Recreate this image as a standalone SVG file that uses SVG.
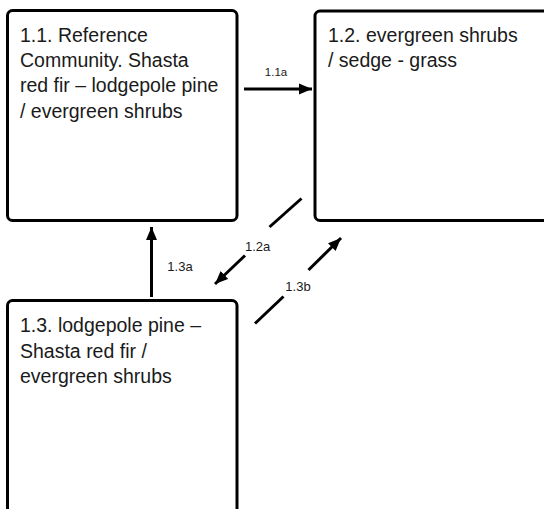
<svg xmlns="http://www.w3.org/2000/svg" width="544" height="509" viewBox="0 0 544 509">
<style>
.box{fill:#fff;stroke:#000;stroke-width:3}
.t{font-family:"Liberation Sans",Arial,sans-serif;font-size:19.5px;fill:#1a1a1a}
.lbl{font-family:"Liberation Sans",Arial,sans-serif;font-size:13px;fill:#1a1a1a;text-anchor:middle}
.c{stroke:#000;stroke-width:3;fill:none}
</style>
<defs>
<marker id="ah" markerUnits="userSpaceOnUse" markerWidth="14" markerHeight="12" refX="13" refY="6" orient="auto">
<path d="M0,0.5 L13,6 L0,11.5 Z" fill="#000"/>
</marker>
</defs>
<rect width="544" height="509" fill="#fff"/>
<g id="node-1-1">
<rect class="box" x="7.5" y="10.5" width="229.5" height="210" rx="5"/>
<text class="t" x="20" y="41.7">1.1. Reference</text>
<text class="t" x="20" y="67">Community. Shasta</text>
<text class="t" x="20" y="92.3">red fir – lodgepole pine</text>
<text class="t" x="20" y="117.6">/ evergreen shrubs</text>
</g>
<g id="node-1-2">
<rect class="box" x="315" y="11" width="260" height="209.5" rx="5"/>
<text class="t" x="328" y="41.7">1.2. evergreen shrubs</text>
<text class="t" x="328" y="67">/ sedge - grass</text>
</g>
<g id="node-1-3">
<rect class="box" x="7.5" y="300.5" width="229.5" height="260" rx="5"/>
<text class="t" x="20" y="332.3">1.3. lodgepole pine –</text>
<text class="t" x="20" y="357.6">Shasta red fir /</text>
<text class="t" x="20" y="382.9">evergreen shrubs</text>
</g>
<g id="connectors">
<line class="c" x1="244" y1="89" x2="312" y2="89" marker-end="url(#ah)"/>
<text class="lbl" x="276" y="76" style="font-size:11.5px">1.1a</text>
<line class="c" x1="151.5" y1="297" x2="151.5" y2="227" marker-end="url(#ah)"/>
<text class="lbl" x="180" y="271">1.3a</text>
<line class="c" x1="301.5" y1="198.5" x2="269.5" y2="227"/>
<line class="c" x1="245" y1="255.5" x2="215" y2="284" marker-end="url(#ah)"/>
<text class="lbl" x="257.7" y="250.5">1.2a</text>
<line class="c" x1="255" y1="323.5" x2="283.5" y2="296.5"/>
<line class="c" x1="308.5" y1="270" x2="341" y2="238" marker-end="url(#ah)"/>
<text class="lbl" x="298" y="290.5">1.3b</text>
</g>
</svg>
